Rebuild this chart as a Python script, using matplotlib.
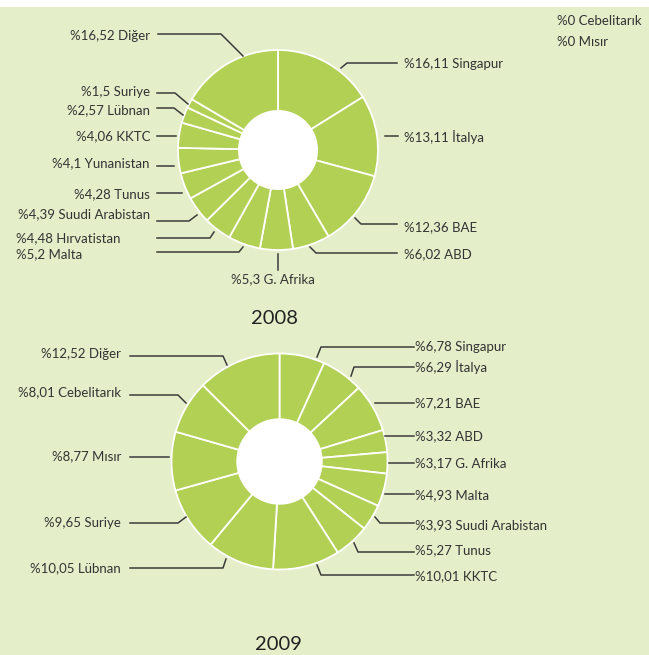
import matplotlib
matplotlib.use("Agg")
import matplotlib.pyplot as plt
from matplotlib.lines import Line2D
from matplotlib.patches import Circle, Rectangle

plt.rcParams['font.family'] = ['Lato', 'DejaVu Sans']

# ---------------- data ----------------
countries_2008 = ["Singapur", "İtalya", "BAE", "ABD", "G. Afrika", "Malta", "Hırvatistan",
                  "Suudi Arabistan", "Tunus", "Yunanistan", "KKTC", "Lübnan", "Suriye", "Diğer"]
values_2008 = [16.11, 13.11, 12.36, 6.02, 5.3, 5.2, 4.48, 4.39, 4.28, 4.1, 4.06, 2.57, 1.5, 16.52]
zero_2008 = ["Cebelitarık", "Mısır"]

countries_2009 = ["Singapur", "İtalya", "BAE", "ABD", "G. Afrika", "Malta", "Suudi Arabistan",
                  "Tunus", "KKTC", "Lübnan", "Suriye", "Mısır", "Cebelitarık", "Diğer"]
values_2009 = [6.78, 6.29, 7.21, 3.32, 3.17, 4.93, 3.93, 5.27, 10.01, 10.05, 9.65, 8.77, 8.01, 12.52]

years = ["2008", "2009"]

# ---------------- style / layout ----------------
W, H = 649, 655
BG = "#e4efca"
SLICE = "#b1d054"
LINE = "#3c3c3c"
TXT = "#333333"

def fx(x):
    return x / W

def fy(y):
    return 1 - y / H

def fmt(v, name):
    return "%" + f"{v:g}".replace(".", ",") + " " + name

# label layout: (text_x, text_y, ha, leader polyline in px)
layout_2008 = [
    (404, 64, "left", [(341, 68), (347, 63), (397, 63)]),
    (404, 137, "left", [(385, 136), (398, 136)]),
    (404, 227, "left", [(355, 218), (361, 224), (397, 224)]),
    (404, 254, "left", [(310, 247), (316, 253), (397, 253)]),
    (273, 279, "center", [(278, 254), (278, 270)]),
    (16, 254, "left", [(243, 247), (239, 252), (157, 252)]),
    (16, 238, "left", [(214, 232), (210, 238), (157, 238)]),
    (150, 214, "right", [(197, 215), (189, 221), (157, 221)]),
    (150, 194, "right", [(182, 193), (157, 193)]),
    (150, 163, "right", [(174, 166), (157, 166)]),
    (150, 136, "right", [(176, 136), (157, 136)]),
    (150, 110, "right", [(183, 115), (174, 108), (157, 108)]),
    (150, 92, "right", [(188, 104), (175, 93), (157, 93)]),
    (150, 36, "right", [(243, 56), (221, 34), (158, 34)]),
]
layout_2009 = [
    (415, 347, "left", [(317, 357), (321, 347), (414, 347)]),
    (415, 367, "left", [(351, 376), (354, 367), (414, 367)]),
    (415, 403, "left", [(375, 403), (414, 403)]),
    (415, 436, "left", [(385, 436), (414, 436)]),
    (415, 463, "left", [(389, 463), (414, 463)]),
    (415, 495, "left", [(385, 494), (414, 494)]),
    (415, 525, "left", [(375, 517), (380, 523), (414, 523)]),
    (415, 550, "left", [(354, 543), (358, 552), (414, 552)]),
    (415, 576, "left", [(317, 565), (321, 575), (414, 575)]),
    (121, 568, "right", [(226, 559), (223, 568), (130, 568)]),
    (121, 523, "right", [(186, 517), (178, 523), (130, 523)]),
    (121, 456, "right", [(169, 457), (130, 457)]),
    (121, 392, "right", [(186, 403), (178, 395), (130, 395)]),
    (121, 354, "right", [(227, 365), (223, 356), (130, 356)]),
]

fig = plt.figure(figsize=(W / 100, H / 100), dpi=100)
fig.patch.set_facecolor(BG)
# white strip at top
fig.add_artist(Rectangle((0, fy(7)), 1, 7 / H, transform=fig.transFigure,
                         facecolor="white", edgecolor="none"))


def donut(cx, cy, r, values):
    ax = fig.add_axes([fx(cx - r), fy(cy + r), 2 * r / W, 2 * r / H])
    wedges, _ = ax.pie(values, startangle=90, counterclock=False,
                       colors=[SLICE] * len(values),
                       wedgeprops=dict(edgecolor="white", linewidth=1.3), radius=1.0)
    for w in wedges:
        w.set_clip_on(False)
    ax.add_patch(Circle((0, 0), 0.4, facecolor="white", edgecolor="none", zorder=5))
    ax.set_xlim(-1.0, 1.0)
    ax.set_ylim(-1.0, 1.0)
    ax.set_aspect("equal")
    ax.axis("off")
    return ax


def labels(names, values, layout):
    for name, v, (tx, ty, ha, pts) in zip(names, values, layout):
        xs = [fx(p[0]) for p in pts]
        ys = [fy(p[1]) for p in pts]
        fig.add_artist(Line2D(xs, ys, transform=fig.transFigure, color=LINE, lw=1.1))
        fig.text(fx(tx), fy(ty), fmt(v, name), ha=ha, va="center", fontsize=9.5, color=TXT)


donut(278, 150, 100, values_2008)
labels(countries_2008, values_2008, layout_2008)
for i, name in enumerate(zero_2008):
    fig.text(fx(557), fy(21 + 21 * i), fmt(0, name), ha="left", va="center",
             fontsize=9.5, color=TXT)
fig.text(fx(274), fy(318), years[0], ha="center", va="center", fontsize=14.5, color="#222222")

donut(279.5, 461.5, 108, values_2009)
labels(countries_2009, values_2009, layout_2009)
fig.text(fx(278), fy(644), years[1], ha="center", va="center", fontsize=14.5, color="#222222")

fig.savefig("out.png", dpi=100, facecolor=BG)
